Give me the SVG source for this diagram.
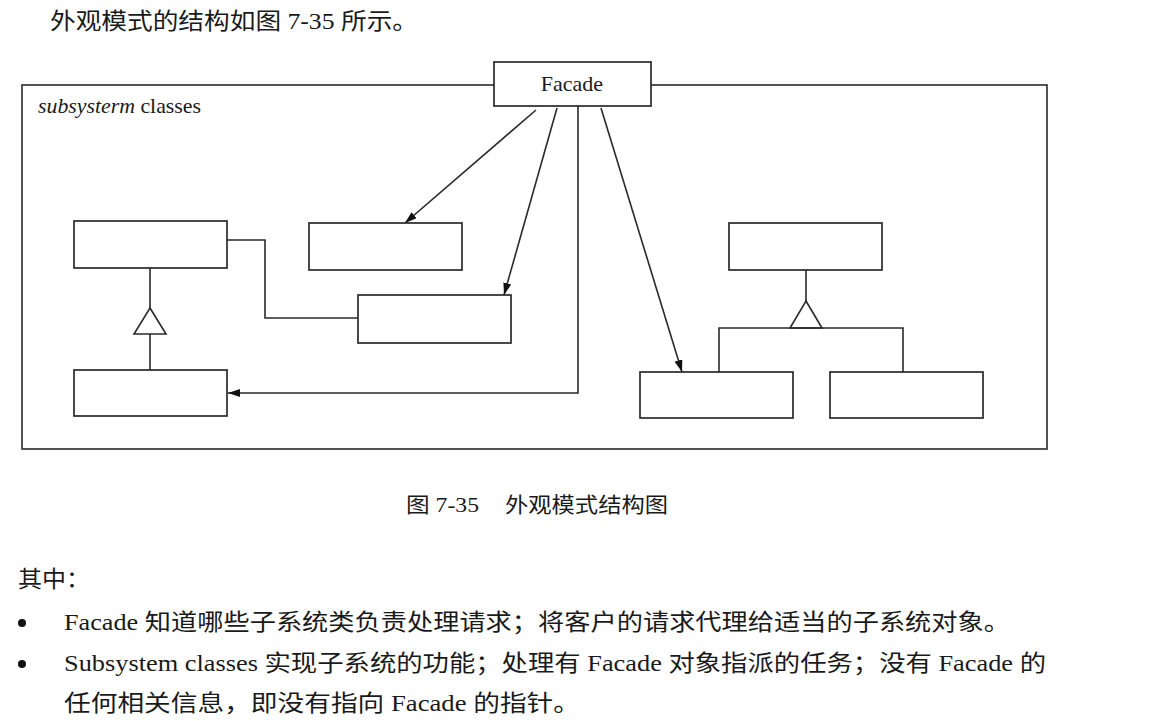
<svg xmlns="http://www.w3.org/2000/svg" width="1172" height="721" viewBox="0 0 1172 721">
<defs>
<style>
.t{font-family:"Liberation Serif","Noto Sans CJK SC",serif;fill:#1a1a1a}
.box{fill:#fff;stroke:#2a2a2a;stroke-width:1.7}
.ln{fill:none;stroke:#2a2a2a;stroke-width:1.6}
</style>
<marker id="ar" viewBox="0 0 12 8" refX="12" refY="4" markerWidth="12" markerHeight="8" markerUnits="userSpaceOnUse" orient="auto">
<path d="M0,0 L12,4 L0,8 Z" fill="#111"/>
</marker>
</defs>
<rect width="1172" height="721" fill="#fff"/>
<text class="t" x="50" y="29" font-size="23" textLength="368" lengthAdjust="spacingAndGlyphs">外观模式的结构如图 7-35 所示。</text>

<rect id="frame" x="22" y="85" width="1025" height="364" class="ln"/>
<text class="t" x="38" y="113" font-size="21" textLength="163" lengthAdjust="spacingAndGlyphs"><tspan font-style="italic">subsysterm</tspan> classes</text>

<g id="connectors">
<path class="ln" d="M536,110 L405,223" marker-end="url(#ar)"/>
<path class="ln" d="M557,108 L504,295" marker-end="url(#ar)"/>
<path class="ln" d="M601,108 L682,372" marker-end="url(#ar)"/>
<path class="ln" d="M578,106 L578,393 L228,393" marker-end="url(#ar)"/>
<path class="ln" d="M227,240 L265,240 L265,318 L358,318"/>
<path class="ln" d="M150,268 L150,308 M150,334 L150,370"/>
<path class="ln" d="M150,308 L166,334 L134,334 Z"/>
<path class="ln" d="M806,270 L806,301 M719,372 L719,328 L903,328 L903,372"/>
<path class="ln" d="M806,301 L822,328 L790,328 Z"/>
</g>

<g id="facade"><rect x="494" y="62" width="157" height="44" class="box"/>
<text class="t" x="572" y="91" font-size="22" text-anchor="middle">Facade</text></g>
<g id="classA"><rect x="74" y="221" width="153" height="47" class="box"/></g>
<g id="classB"><rect x="74" y="370" width="153" height="46" class="box"/></g>
<g id="classC"><rect x="309" y="223" width="153" height="47" class="box"/></g>
<g id="classD"><rect x="358" y="295" width="153" height="48" class="box"/></g>
<g id="classE"><rect x="729" y="223" width="153" height="47" class="box"/></g>
<g id="classF"><rect x="640" y="372" width="153" height="46" class="box"/></g>
<g id="classG"><rect x="830" y="372" width="153" height="46" class="box"/></g>

<text class="t" x="406" y="512" font-size="21" textLength="73" lengthAdjust="spacingAndGlyphs">图 7-35</text>
<text class="t" x="505" y="512" font-size="21" textLength="163" lengthAdjust="spacingAndGlyphs">外观模式结构图</text>

<text class="t" x="18" y="587" font-size="23" textLength="72" lengthAdjust="spacingAndGlyphs">其中：</text>
<circle cx="22" cy="623" r="4" fill="#111"/>
<text class="t" x="64" y="630" font-size="23" textLength="946" lengthAdjust="spacingAndGlyphs">Facade 知道哪些子系统类负责处理请求；将客户的请求代理给适当的子系统对象。</text>
<circle cx="22" cy="664" r="4" fill="#111"/>
<text class="t" x="64" y="671" font-size="23" textLength="982" lengthAdjust="spacingAndGlyphs">Subsystem classes 实现子系统的功能；处理有 Facade 对象指派的任务；没有 Facade 的</text>
<text class="t" x="64" y="711" font-size="23" textLength="516" lengthAdjust="spacingAndGlyphs">任何相关信息，即没有指向 Facade 的指针。</text>
</svg>
